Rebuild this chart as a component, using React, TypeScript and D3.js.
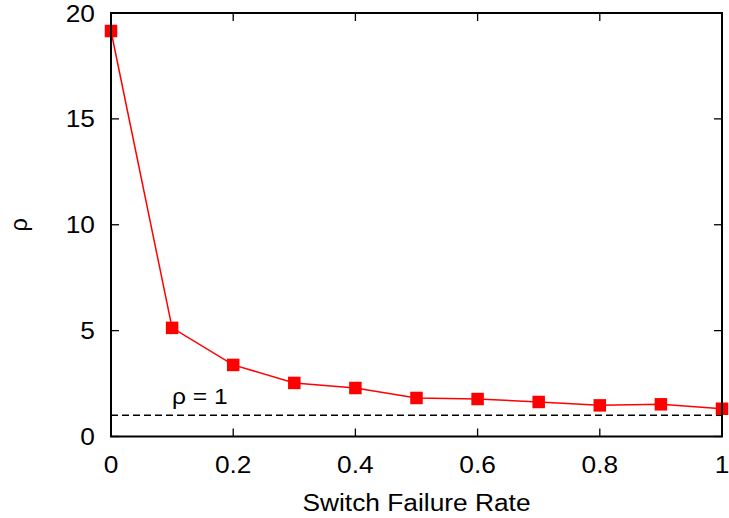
import React from "react";
import * as d3 from "d3";

const xValues = [0, 0.1, 0.2, 0.3, 0.4, 0.5, 0.6, 0.7, 0.8, 0.9, 1.0];
const rhoValues = [19.15, 5.13, 3.38, 2.53, 2.29, 1.82, 1.77, 1.63, 1.47, 1.52, 1.31];
const xTicks = [0, 0.2, 0.4, 0.6, 0.8, 1];
const xTickLabels = ["0", "0.2", "0.4", "0.6", "0.8", "1"];
const yTicks = [0, 5, 10, 15, 20];
const refValue = 1;

export default function App() {
  const W = 729, H = 518;
  const left = 111, right = 722, top = 13, bottom = 436.5;
  const x = d3.scaleLinear().domain([0, 1]).range([left, right]);
  const y = d3.scaleLinear().domain([0, 20]).range([bottom, top]);
  const line = d3.line<number>().x((_, i) => x(xValues[i])).y((d) => y(d));
  const font = "'Liberation Sans', Arial, Helvetica, sans-serif";
  const fs = 23.5;
  const sx = 1.12;
  const tl = 8;
  const ms = 12.5;
  return (
    <svg width={W} height={H} style={{ position: "absolute", left: 0, top: 0, background: "#fff" }}>
      <g fontFamily={font} fontSize={fs} fill="#000">
        {yTicks.map((t) => (
          <g key={"y" + t}>
            <line x1={left} x2={left + tl} y1={y(t)} y2={y(t)} stroke="#000" strokeWidth={1.3} />
            <line x1={right} x2={right - tl} y1={y(t)} y2={y(t)} stroke="#000" strokeWidth={1.3} />
            <text transform={`translate(95,${y(t) + 8.5}) scale(${sx},1)`} textAnchor="end">{t}</text>
          </g>
        ))}
        {xTicks.map((t, i) => (
          <g key={"x" + t}>
            <line x1={x(t)} x2={x(t)} y1={bottom} y2={bottom - tl} stroke="#000" strokeWidth={1.3} />
            <line x1={x(t)} x2={x(t)} y1={top} y2={top + tl} stroke="#000" strokeWidth={1.3} />
            <text transform={`translate(${x(t)},473) scale(${sx},1)`} textAnchor="middle">{xTickLabels[i]}</text>
          </g>
        ))}
        <line x1={left} x2={right} y1={y(refValue)} y2={y(refValue)} stroke="#000" strokeWidth={1.5} strokeDasharray="7,4" />
        <text transform={`translate(172,404) scale(${sx},1)`} fontSize={22}>ρ = 1</text>
        <path d={line(rhoValues) || ""} fill="none" stroke="#ff0000" strokeWidth={1.5} />
        {rhoValues.map((v, i) => (
          <rect key={i} x={x(xValues[i]) - ms / 2} y={y(v) - ms / 2} width={ms} height={ms} fill="#ff0000" />
        ))}
        <rect x={left} y={top} width={right - left} height={bottom - top} fill="none" stroke="#000" strokeWidth={2} />
        <text transform={`translate(${(left + right) / 2},511) scale(${sx},1)`} textAnchor="middle">Switch Failure Rate</text>
        <text transform={`translate(27,${(top + bottom) / 2}) rotate(-90)`} textAnchor="middle">ρ</text>
      </g>
    </svg>
  );
}
